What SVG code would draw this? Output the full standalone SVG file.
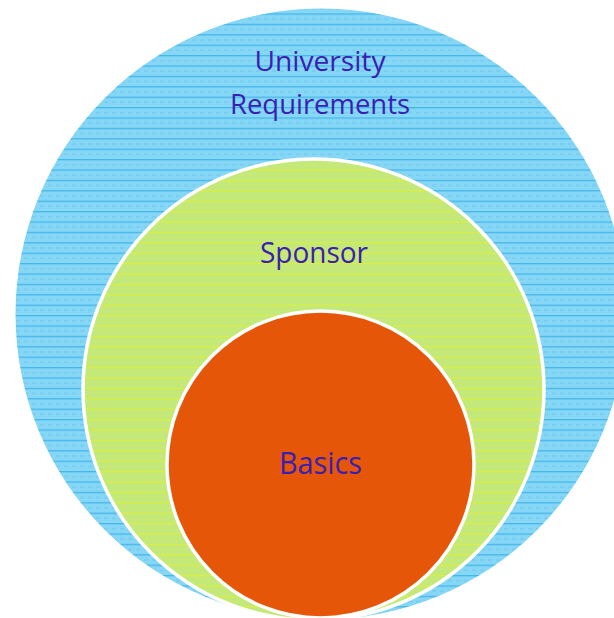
<svg xmlns="http://www.w3.org/2000/svg" width="614" height="618" viewBox="0 0 614 618">
<style>
.lbl{font-family:"Open Sans","Noto Sans","DejaVu Sans",sans-serif;fill:#3a20b2;text-anchor:middle}
</style>
<defs>
<pattern id="blue" patternUnits="userSpaceOnUse" width="8" height="10.4" y="3">
<rect width="8" height="10.4" fill="#86d6f6"/>
<rect y="0" width="8" height="1.3" fill="#45b6ea"/>
<rect y="5.2" width="4" height="1" fill="#6cc6ef"/>
</pattern>
<pattern id="green" patternUnits="userSpaceOnUse" width="8" height="10.4" y="3">
<rect width="8" height="10.4" fill="#c3e87c"/>
<rect y="0" width="8" height="1.3" fill="#dcef3e"/>
<rect y="5.2" width="4" height="1" fill="#d2ec60"/>
</pattern>
</defs>
<rect width="614" height="618" fill="#ffffff"/>
<g id="university">
<circle cx="321" cy="314" r="306" fill="url(#blue)" stroke="#ffffff" stroke-width="1"/>
<text class="lbl" x="320" y="70.5" font-size="28" textLength="131" lengthAdjust="spacingAndGlyphs">University</text>
<text class="lbl" x="320" y="113.5" font-size="28" textLength="180" lengthAdjust="spacingAndGlyphs">Requirements</text>
</g>
<g id="sponsor">
<circle cx="313.5" cy="389.5" r="230.5" fill="url(#green)" stroke="#ffffff" stroke-width="3.5"/>
<text class="lbl" x="314" y="263" font-size="30" textLength="108" lengthAdjust="spacingAndGlyphs">Sponsor</text>
</g>
<g id="basics">
<circle cx="320.5" cy="464.5" r="153.5" fill="#e65608" stroke="#ffffff" stroke-width="3.5"/>
<text class="lbl" x="320.5" y="474" font-size="31" textLength="83" lengthAdjust="spacingAndGlyphs">Basics</text>
</g>
<g id="connectors"/>
</svg>
